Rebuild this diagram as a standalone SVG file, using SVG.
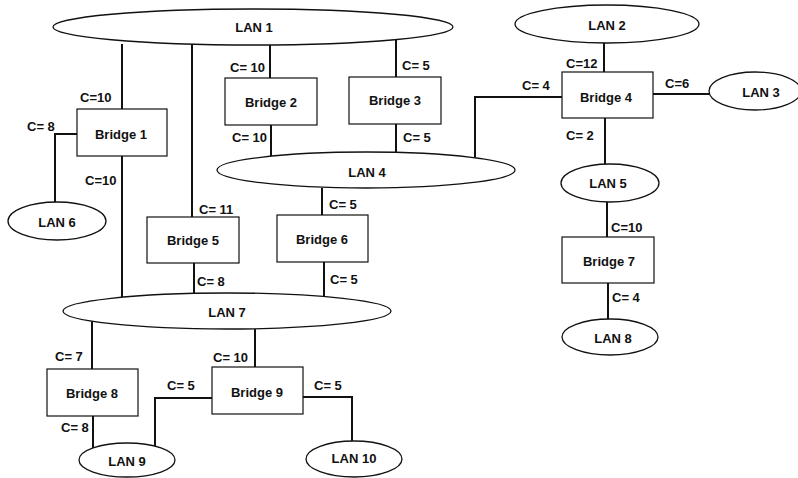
<svg xmlns="http://www.w3.org/2000/svg" width="798" height="478" viewBox="0 0 798 478">
<style>
text{font-family:"Liberation Sans",Arial,sans-serif;font-weight:bold;font-size:13px;fill:#111}
.c{text-anchor:middle}
.lan{fill:#fff;stroke:#111;stroke-width:1.3}
.br{fill:#fff;stroke:#111;stroke-width:1.2}
.w{fill:none;stroke:#111;stroke-width:2}
</style>
<rect width="798" height="478" fill="#fff"/>
<g id="connectors">
<line class="w" x1="122" y1="44" x2="122" y2="109"/>
<polyline class="w" points="77,134 55,134 55,202"/>
<line class="w" x1="122" y1="156" x2="122" y2="298"/>
<line class="w" x1="192" y1="44" x2="192" y2="217"/>
<line class="w" x1="194" y1="263" x2="194" y2="294"/>
<line class="w" x1="270" y1="45" x2="270" y2="78"/>
<line class="w" x1="271" y1="125" x2="271" y2="160"/>
<line class="w" x1="396" y1="40" x2="396" y2="77"/>
<line class="w" x1="396" y1="124" x2="396" y2="153"/>
<line class="w" x1="322" y1="188" x2="322" y2="215"/>
<line class="w" x1="324" y1="262" x2="324" y2="297"/>
<polyline class="w" points="475,158 475,97 562,97"/>
<line class="w" x1="604" y1="43" x2="604" y2="72"/>
<line class="w" x1="653" y1="94" x2="709" y2="94"/>
<line class="w" x1="605" y1="118" x2="605" y2="164"/>
<line class="w" x1="607" y1="202" x2="607" y2="237"/>
<line class="w" x1="608" y1="283" x2="608" y2="319"/>
<line class="w" x1="92" y1="321" x2="92" y2="369"/>
<line class="w" x1="93" y1="416" x2="93" y2="448"/>
<line class="w" x1="255" y1="329" x2="255" y2="367"/>
<polyline class="w" points="212,398 155,398 155,446"/>
<polyline class="w" points="303,397 352,397 352,441"/>
<text x="80" y="101.5">C=10</text>
<text x="27" y="130.5">C= 8</text>
<text x="85" y="184.5">C=10</text>
<text x="199" y="213.5">C= 11</text>
<text x="197" y="285.5">C= 8</text>
<text x="230" y="71.5">C= 10</text>
<text x="232" y="141.5">C= 10</text>
<text x="402" y="69.5">C= 5</text>
<text x="403" y="141.5">C= 5</text>
<text x="329" y="208.5">C= 5</text>
<text x="330" y="283.5">C= 5</text>
<text x="522" y="89.5">C= 4</text>
<text x="566" y="67.5">C=12</text>
<text x="665" y="87.5">C=6</text>
<text x="566" y="139.5">C= 2</text>
<text x="611" y="231.5">C=10</text>
<text x="612" y="301.5">C= 4</text>
<text x="55" y="360.5">C= 7</text>
<text x="61" y="431.5">C= 8</text>
<text x="213" y="361.5">C= 10</text>
<text x="167" y="389.5">C= 5</text>
<text x="314" y="389.5">C= 5</text>
</g>
<g id="lan1"><ellipse class="lan" cx="253" cy="27" rx="200" ry="18"/><text class="c" x="254" y="32">LAN 1</text></g>
<g id="lan2"><ellipse class="lan" cx="607" cy="24" rx="92" ry="19"/><text class="c" x="607" y="29.5">LAN 2</text></g>
<g id="lan3"><ellipse class="lan" cx="755" cy="91" rx="46" ry="19"/><text class="c" x="761" y="97">LAN 3</text></g>
<g id="lan4"><ellipse class="lan" cx="366" cy="170" rx="149" ry="18"/><text class="c" x="367" y="176.5">LAN 4</text></g>
<g id="lan5"><ellipse class="lan" cx="610" cy="183" rx="49" ry="19"/><text class="c" x="608" y="188">LAN 5</text></g>
<g id="lan6"><ellipse class="lan" cx="57" cy="221" rx="49" ry="19"/><text class="c" x="57" y="226.5">LAN 6</text></g>
<g id="lan7"><ellipse class="lan" cx="227" cy="311" rx="164" ry="18"/><text class="c" x="227" y="316.5">LAN 7</text></g>
<g id="lan8"><ellipse class="lan" cx="610" cy="337" rx="48" ry="18"/><text class="c" x="613" y="342.5">LAN 8</text></g>
<g id="lan9"><ellipse class="lan" cx="127" cy="460" rx="48" ry="17"/><text class="c" x="127" y="465.5">LAN 9</text></g>
<g id="lan10"><ellipse class="lan" cx="354" cy="459" rx="48" ry="18"/><text class="c" x="354" y="463">LAN 10</text></g>
<g id="bridge1"><rect class="br" x="77" y="109" width="90" height="47"/><text class="c" x="121" y="138.5">Bridge 1</text></g>
<g id="bridge2"><rect class="br" x="225" y="78" width="92" height="47"/><text class="c" x="271" y="106.5">Bridge 2</text></g>
<g id="bridge3"><rect class="br" x="349" y="77" width="92" height="47"/><text class="c" x="395" y="104.5">Bridge 3</text></g>
<g id="bridge4"><rect class="br" x="562" y="72" width="91" height="46"/><text class="c" x="606" y="101.5">Bridge 4</text></g>
<g id="bridge5"><rect class="br" x="147" y="217" width="92" height="46"/><text class="c" x="193" y="245">Bridge 5</text></g>
<g id="bridge6"><rect class="br" x="277" y="215" width="91" height="47"/><text class="c" x="322" y="243.5">Bridge 6</text></g>
<g id="bridge7"><rect class="br" x="562" y="237" width="92" height="46"/><text class="c" x="609" y="265.5">Bridge 7</text></g>
<g id="bridge8"><rect class="br" x="47" y="369" width="91" height="47"/><text class="c" x="92" y="397.5">Bridge 8</text></g>
<g id="bridge9"><rect class="br" x="212" y="367" width="91" height="47"/><text class="c" x="257" y="396.5">Bridge 9</text></g>
</svg>
